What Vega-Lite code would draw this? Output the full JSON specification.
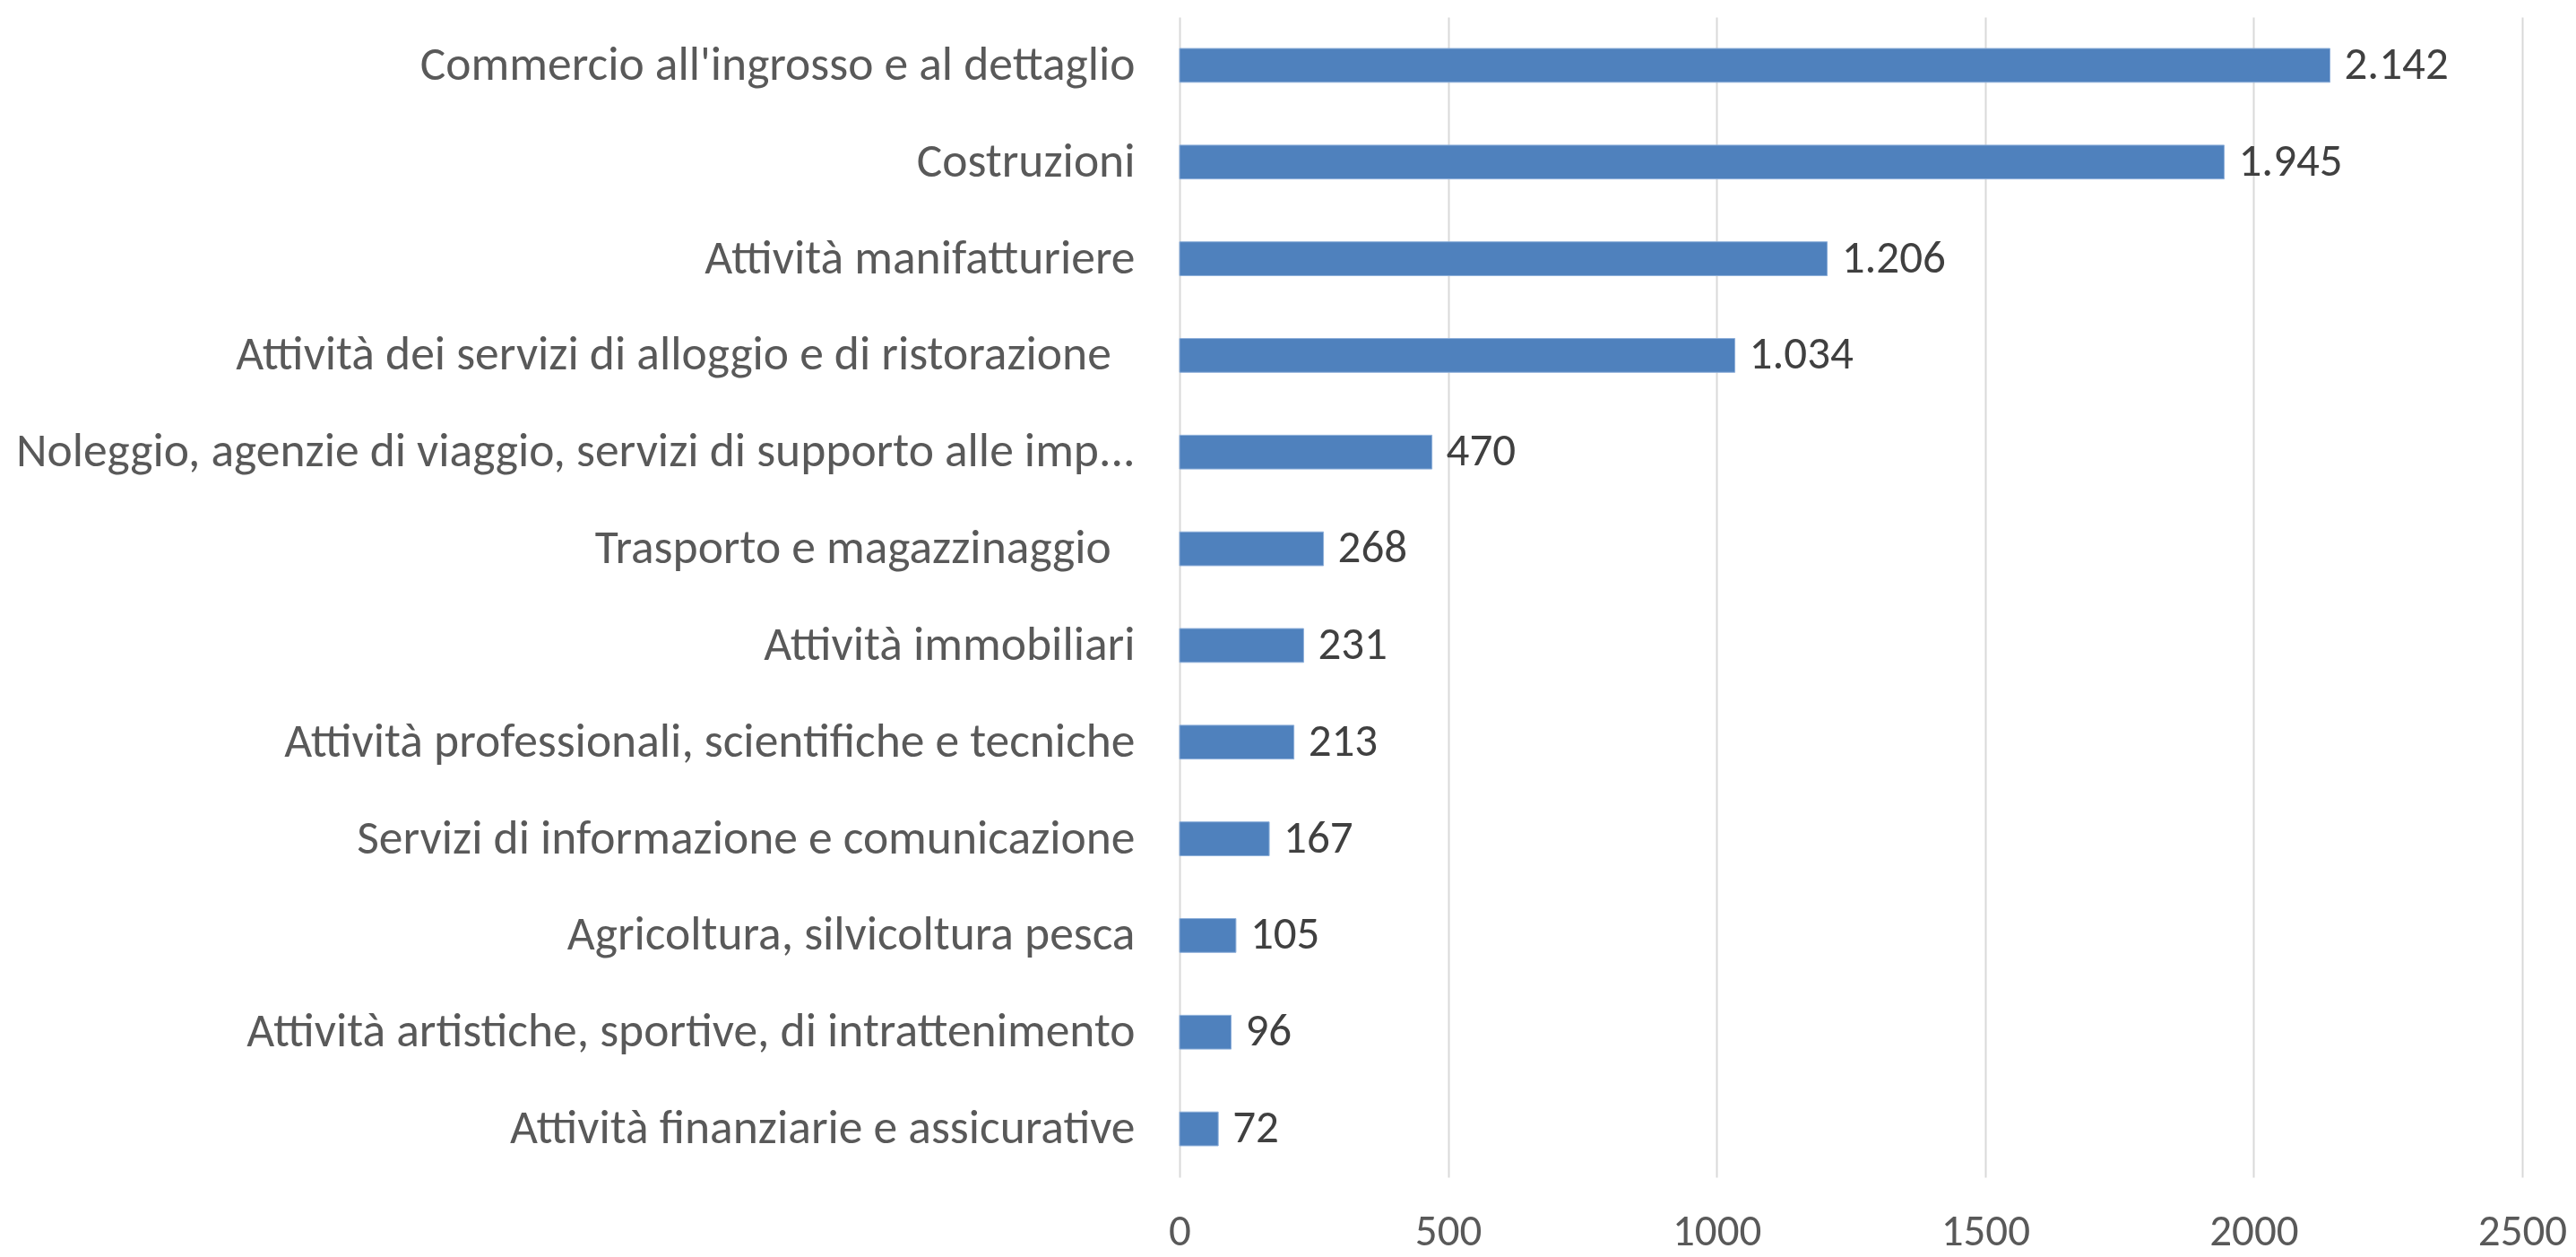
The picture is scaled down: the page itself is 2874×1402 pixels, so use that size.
{
  "$schema": "https://vega.github.io/schema/vega-lite/v6.json",
  "width": 1498,
  "height": 1294,
  "autosize": {"type": "none"},
  "padding": {"left": 1316, "top": 19, "right": 60, "bottom": 89},
  "background": "white",
  "config": {
    "view": {"stroke": null},
    "font": "Carlito, 'Liberation Sans Narrow', 'Open Sans'",
    "locale": {"number": {"decimal": ",", "thousands": ".", "grouping": [3], "currency": ["€", ""]}}
  },
  "data": {
    "values": [
      {"settore": "Commercio all'ingrosso e al dettaglio", "valore": 2142},
      {"settore": "Costruzioni", "valore": 1945},
      {"settore": "Attività manifatturiere", "valore": 1206},
      {"settore": "Attività dei servizi di alloggio e di ristorazione\u2002\u2060", "valore": 1034},
      {"settore": "Noleggio, agenzie di viaggio, servizi di supporto alle imp...", "valore": 470},
      {"settore": "Trasporto e magazzinaggio\u2002\u2060", "valore": 268},
      {"settore": "Attività immobiliari", "valore": 231},
      {"settore": "Attività professionali, scientifiche e tecniche", "valore": 213},
      {"settore": "Servizi di informazione e comunicazione", "valore": 167},
      {"settore": "Agricoltura, silvicoltura pesca", "valore": 105},
      {"settore": "Attività artistiche, sportive, di intrattenimento", "valore": 96},
      {"settore": "Attività finanziarie e assicurative", "valore": 72}
    ]
  },
  "encoding": {
    "y": {
      "field": "settore",
      "type": "nominal",
      "sort": null,
      "scale": {"paddingInner": 0.65, "paddingOuter": 0.325},
      "axis": {
        "title": null,
        "domain": false,
        "ticks": false,
        "grid": false,
        "labelFontSize": 53.5,
        "labelColor": "#595959",
        "labelPadding": 50,
        "labelLimit": 0
      }
    },
    "x": {
      "field": "valore",
      "type": "quantitative",
      "scale": {"domain": [0, 2500], "nice": false},
      "axis": {
        "title": null,
        "values": [0, 500, 1000, 1500, 2000, 2500],
        "format": "d",
        "domain": false,
        "ticks": false,
        "grid": true,
        "gridColor": "#d9d9d9",
        "gridWidth": 2,
        "labelFontSize": 49,
        "labelColor": "#595959",
        "labelPadding": 36,
        "labelFlush": false
      }
    }
  },
  "layer": [
    {"mark": {"type": "bar", "color": "#4f81bd", "stroke": "#8fb0da", "strokeWidth": 1}},
    {
      "mark": {"type": "text", "align": "left", "baseline": "middle", "dx": 16, "fontSize": 51, "color": "#404040"},
      "encoding": {"text": {"field": "valore", "type": "quantitative", "format": ",d"}}
    }
  ]
}
